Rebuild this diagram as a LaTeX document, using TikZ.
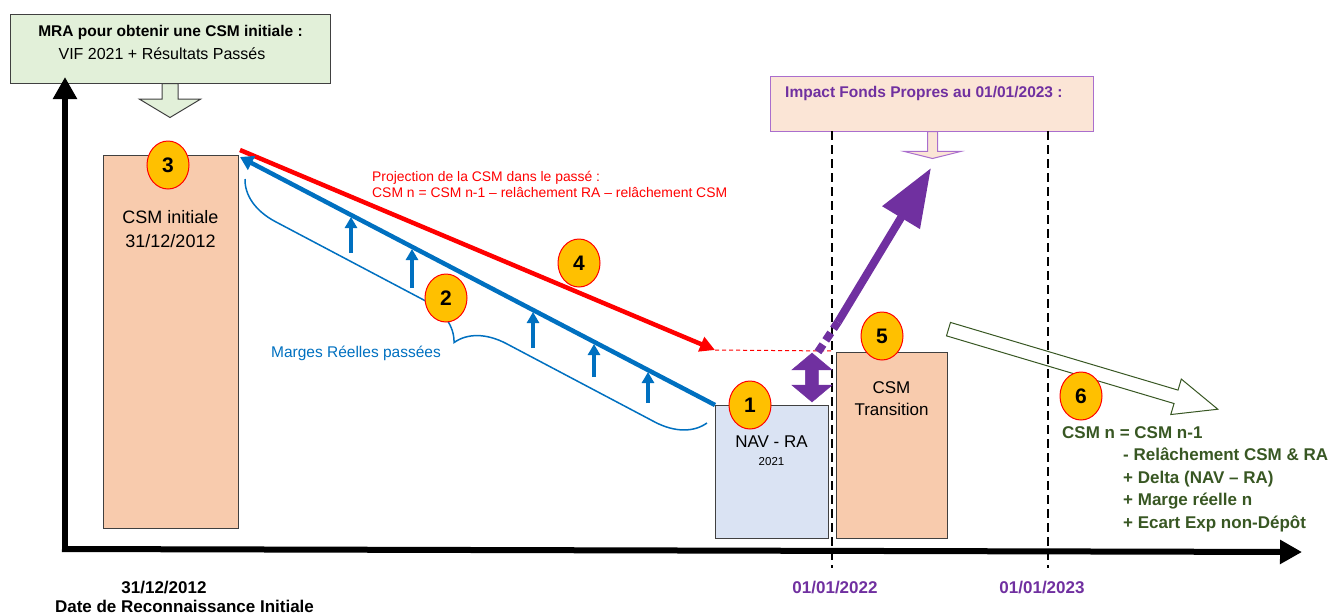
\documentclass[tikz,border=0pt]{standalone}
\usepackage{fontspec}
\setmainfont{Liberation Sans}
\usepackage{tikz}
\usetikzlibrary{shapes,arrows,arrows.meta,decorations.pathreplacing,positioning}

\definecolor{peach}{RGB}{248,203,173}
\definecolor{navblue}{RGB}{218,227,243}
\definecolor{mragreen}{RGB}{226,240,217}
\definecolor{impactfill}{RGB}{251,229,214}
\definecolor{violet7}{RGB}{112,48,160}
\definecolor{lilac}{RGB}{170,110,205}
\definecolor{darkgreen}{RGB}{56,87,35}
\definecolor{blue7}{RGB}{0,112,192}
\definecolor{gold}{RGB}{255,192,0}
\definecolor{boxgray}{RGB}{64,64,64}

\begin{document}
\begin{tikzpicture}[x=1pt, y=-1pt]
			\tikzstyle{Box}		= [rectangle, draw=boxgray, line width=1.3pt, anchor=north west, inner sep=0pt]
			\tikzstyle{Step}	= [ellipse, draw=red, line width=1pt, fill=gold, minimum width=42pt, minimum height=48pt, inner sep=0pt, font=\fontsize{21}{21}\selectfont\bfseries]
			\tikzstyle{Txt}		= [anchor=base, inner sep=0pt]
			\tikzstyle{TxtL}	= [anchor=base west, inner sep=0pt]
			\tikzstyle{Axis}	= [line width=6pt, -{Triangle[length=22pt, width=23pt]}]
			\tikzstyle{Year}	= [dash pattern=on 9pt off 5pt, line width=2.5pt]
			\tikzstyle{Release}	= [blue7, line width=4.5pt, -{Triangle[length=13pt, width=15pt]}]
			\tikzstyle{Margin}	= [blue7, line width=3.5pt, -{Triangle[length=11pt, width=12pt]}]
			\tikzstyle{Projection}	= [red, line width=4.5pt, -{Triangle[length=15pt, width=15pt]}]
			\tikzstyle{Impact}	= [violet7, line width=8pt]
			\tikzstyle{Block}	= [single arrow, anchor=tail, inner xsep=0pt]
			\tikzstyle{GreenTxt}	= [TxtL, darkgreen, font=\fontsize{17}{17}\selectfont\bfseries]
			\tikzstyle{DateTxt}	= [Txt, font=\fontsize{17}{17}\selectfont\bfseries]
			
			\useasboundingbox (0,0) rectangle (1333,614);
			
			\node (mra) at (10,14) [Box, fill=mragreen, minimum width=320pt, minimum height=69pt] {};
			\node (mra1) at (170.5,36) [Txt, font=\fontsize{15.5}{18}\selectfont\bfseries] {MRA pour obtenir une CSM initiale :};
			\node (mra2) at (162,59) [Txt, font=\fontsize{16}{18}\selectfont] {VIF 2021 + Résultats Passés};
			\node (mradown) at (170,83) [Block, draw=boxgray, line width=1pt, fill=mragreen, rotate=-90, inner ysep=7.5pt, minimum height=34pt, single arrow head extend=22.5pt, single arrow tip angle=118] {};
			
			\node (impact) at (770,76) [Box, draw=lilac, fill=impactfill, minimum width=323pt, minimum height=55pt] {};
			\node (impact1) at (785,97) [TxtL, violet7, font=\fontsize{15.5}{18}\selectfont\bfseries] {Impact Fonds Propres au 01/01/2023 :};
			\node (impactdown) at (932.5,131) [Block, draw=lilac, line width=1pt, fill=impactfill, rotate=-90, inner ysep=4.5pt, minimum height=27pt, single arrow head extend=23.5pt, single arrow tip angle=152] {};
			
			\node (csmi) at (103,155) [Box, fill=peach, minimum width=135pt, minimum height=373pt] {};
			\node (csmi1) at (170.5,223) [Txt, font=\fontsize{18}{18}\selectfont] {CSM initiale};
			\node (csmi2) at (170.5,247) [Txt, font=\fontsize{18}{18}\selectfont] {31/12/2012};
			
			\node (nav) at (715,405) [Box, fill=navblue, minimum width=113pt, minimum height=133pt] {};
			\node (nav1) at (771.5,447) [Txt, font=\fontsize{17}{17}\selectfont] {NAV - RA};
			\node (nav2) at (771.5,465) [Txt, font=\fontsize{11.5}{12}\selectfont] {2021};
			
			\node (csmt) at (836,352) [Box, fill=peach, minimum width=111pt, minimum height=186pt] {};
			\node (csmt1) at (891.5,393) [Txt, font=\fontsize{17}{17}\selectfont] {CSM};
			\node (csmt2) at (891.5,415) [Txt, font=\fontsize{17}{17}\selectfont] {Transition};
			
			\node (future) at (948,329) [Block, draw=darkgreen, line width=1pt, fill=white, rotate=-16.56, inner ysep=6.5pt, minimum height=281pt, single arrow head extend=11.5pt, single arrow tip angle=46] {};
			
			\coordinate (y22top) at (832,131);
			\coordinate (y22bot) at (832,568);
			\coordinate (y23top) at (1048,131);
			\coordinate (y23bot) at (1048,568);
			\draw (y22top) -- (y22bot) [Year];
			\draw (y23top) -- (y23bot) [Year];
			
			\coordinate (origin) at (65,552);
			\coordinate (ytop) at (65,77);
			\coordinate (xstart) at (62,549);
			\coordinate (xend) at (1302,552);
			\draw (origin) -- (ytop) [Axis];
			\draw (xstart) -- (xend) [Axis];
			
			\coordinate (projstart) at (240,150);
			\coordinate (projend) at (715,350);
			\coordinate (projgap) at (832,351);
			\draw (projstart) -- (projend) [Projection];
			\draw [-] (projend) -- (projgap) [red, line width=1pt, dash pattern=on 4pt off 3pt];
			\node (proj1) at (372,181) [TxtL, red, font=\fontsize{13.9}{14}\selectfont] {Projection de la CSM dans le passé :};
			\node (proj2) at (372,197) [TxtL, red, font=\fontsize{13.9}{14}\selectfont] {CSM n = CSM n-1 – relâchement RA – relâchement CSM};
			
			\coordinate (relstart) at (715,405);
			\coordinate (relend) at (240,157);
			\draw (relstart) -- (relend) [Release];
			
			\coordinate (m1a) at (351,253);	\coordinate (m1b) at (351,217);
			\coordinate (m2a) at (412,288);	\coordinate (m2b) at (412,249);
			\coordinate (m3a) at (533,348);	\coordinate (m3b) at (533,312);
			\coordinate (m4a) at (594,377);	\coordinate (m4b) at (594,344);
			\coordinate (m5a) at (648,403);	\coordinate (m5b) at (648,372);
			\draw (m1a) -- (m1b) [Margin];
			\draw (m2a) -- (m2b) [Margin];
			\draw (m3a) -- (m3b) [Margin];
			\draw (m4a) -- (m4b) [Margin];
			\draw (m5a) -- (m5b) [Margin];
			
			\coordinate (bracestart) at (245,179);
			\coordinate (braceend) at (707,423);
			\draw [decorate, decoration={brace, mirror, amplitude=47pt, aspect=0.5}] (bracestart) -- (braceend) [blue7, line width=1.5pt];
			\node (marges) at (356,357) [Txt, blue7, font=\fontsize{15.5}{16}\selectfont] {Marges Réelles passées};
			
			\coordinate (imp0) at (818,352);
			\coordinate (imp1) at (838,322);
			\coordinate (imp2) at (931,168);
			\draw [-] (imp0) -- (imp1) [Impact, dash pattern=on 9pt off 5pt];
			\draw (imp1) -- (imp2) [Impact, -{Triangle[length=58pt, width=42pt]}];
			\node (gap) at (812,377.5) [double arrow, draw=violet7, fill=violet7, rotate=90, inner xsep=0pt, inner ysep=6.5pt, minimum height=49pt, double arrow head extend=13.5pt, double arrow tip angle=100] {};
			
			\node (s1) at (750,405) [Step] {1};
			\node (s2) at (446,298) [Step] {2};
			\node (s3) at (168,165) [Step] {3};
			\node (s4) at (579,263) [Step] {4};
			\node (s5) at (882,336) [Step] {5};
			\node (s6) at (1081,396) [Step] {6};
			
			\node (g1) at (1062,438) [GreenTxt] {CSM n = CSM n-1};
			\node (g2) at (1123,460) [GreenTxt] {- Relâchement CSM \& RA};
			\node (g3) at (1123,483) [GreenTxt] {+ Delta (NAV – RA)};
			\node (g4) at (1123,505) [GreenTxt] {+ Marge réelle n};
			\node (g5) at (1123,528) [GreenTxt] {+ Ecart Exp non-Dépôt};
			
			\node (d0) at (164,593) [DateTxt] {31/12/2012};
			\node (d0b) at (184.5,612) [DateTxt] {Date de Reconnaissance Initiale};
			\node (d22) at (835,593) [DateTxt, violet7] {01/01/2022};
			\node (d23) at (1042,593) [DateTxt, violet7] {01/01/2023};
		\end{tikzpicture}
\end{document}
